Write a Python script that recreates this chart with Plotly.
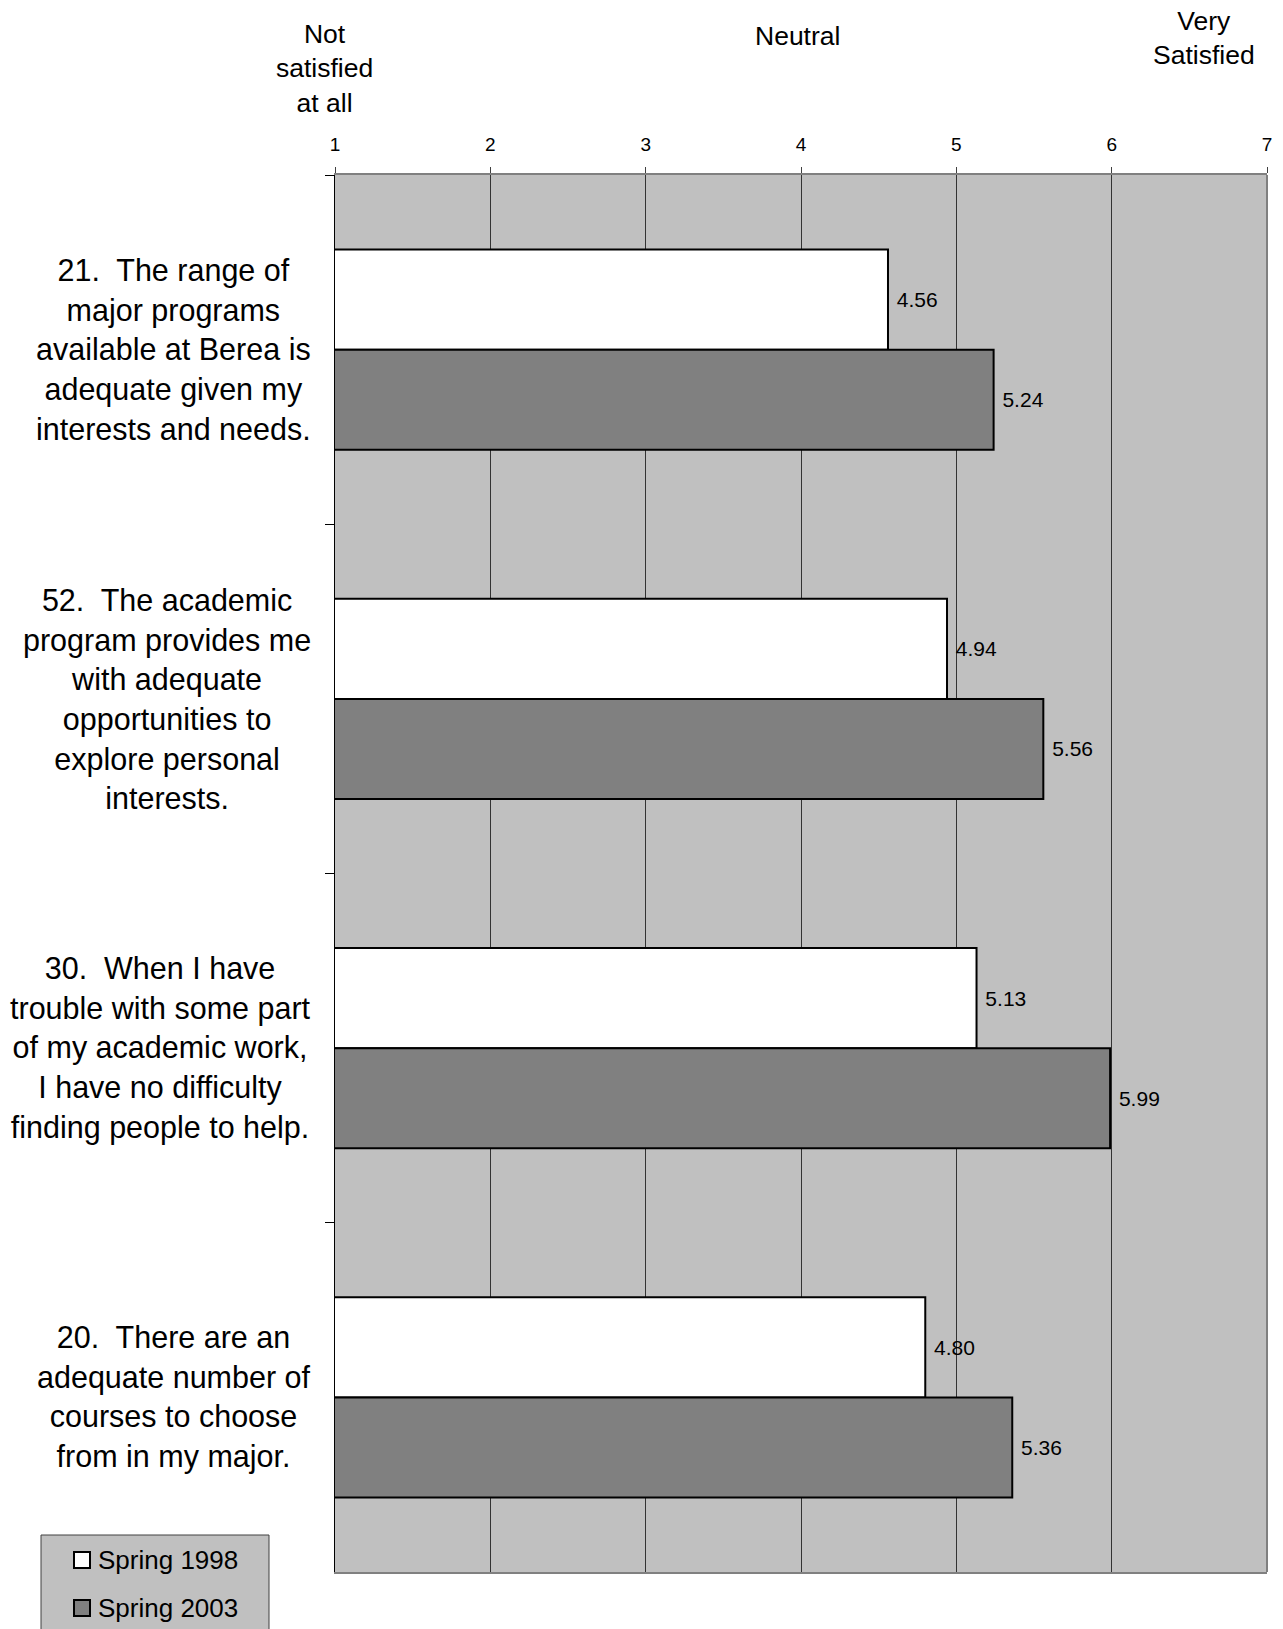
import plotly.graph_objects as go

# данные с картинки
questions = [
    "21.\u00a0 The range of<br>major programs<br>available at Berea is<br>adequate given my<br>interests and needs.",
    "52.\u00a0 The academic<br>program provides me<br>with adequate<br>opportunities to<br>explore personal<br>interests.",
    "30.\u00a0 When I have<br>trouble with some part<br>of my academic work,<br>I have no difficulty<br>finding people to help.",
    "20.\u00a0 There are an<br>adequate number of<br>courses to choose<br>from in my major.",
]
series_names = ["Spring 1998", "Spring 2003"]
spring_1998 = [4.56, 4.94, 5.13, 4.80]
spring_2003 = [5.24, 5.56, 5.99, 5.36]
scale_ticks = [1, 2, 3, 4, 5, 6, 7]

FONT = "Liberation Sans, Arial, sans-serif"
OFF = 8  # отступ body в браузере
W, H = 1283 - OFF, 1629 - OFF
ML, MR, MT, MB = 335 - OFF, 16, 175 - OFF, 57
PW, PH = W - ML - MR, H - MT - MB


# пиксели страницы -> координаты paper
def px(x):
    return (x - OFF - ML) / PW


def py(y):
    return (H - MB - (y - OFF)) / PH


fig = go.Figure()
fig.add_trace(go.Bar(y=questions, x=spring_1998, orientation='h', name=series_names[0],
                     marker=dict(color='white', line=dict(color='black', width=2)),
                     texttemplate='\u00a0%{x:.2f}', textposition='outside',
                     textfont=dict(size=21, color='black', family=FONT)))
fig.add_trace(go.Bar(y=questions, x=spring_2003, orientation='h', name=series_names[1],
                     marker=dict(color='#808080', line=dict(color='black', width=2)),
                     texttemplate='\u00a0%{x:.2f}', textposition='outside',
                     textfont=dict(size=21, color='black', family=FONT)))

# подписи вопросов слева
annotations = []
for q in questions:
    annotations.append(dict(x=0, y=q, xref='paper', yref='y', text=q, showarrow=False,
                            xanchor='right', yanchor='middle', align='center', xshift=-22,
                            font=dict(size=30.5, color='black', family=FONT)))

# подписи шкалы сверху
top_labels = [("Not<br>satisfied<br>at all", 324, 69), ("Neutral", 797, 36), ("Very<br>Satisfied", 1204, 38)]
for txt, x, y in top_labels:
    annotations.append(dict(x=px(x), y=py(y), xref='paper', yref='paper', text=txt, showarrow=False,
                            xanchor='center', yanchor='middle', align='center',
                            font=dict(size=26.5, color='black', family=FONT)))

# легенда вручную
shapes = [dict(type='rect', xref='paper', yref='paper', x0=px(41), x1=px(269), y0=py(1660), y1=py(1535),
               fillcolor='#C0C0C0', line=dict(color='#404040', width=1)),
          dict(type='line', xref='paper', yref='paper', x0=1, x1=1, y0=0, y1=1,
               line=dict(color='#808080', width=2))]
legend_colors = ['white', '#808080']
for i, (name, col) in enumerate(zip(series_names, legend_colors)):
    yc = 1560 + 48 * i
    shapes.append(dict(type='rect', xref='paper', yref='paper', x0=px(74), x1=px(90),
                       y0=py(yc + 8), y1=py(yc - 8), fillcolor=col, line=dict(color='black', width=2)))
    annotations.append(dict(x=px(96), y=py(yc), xref='paper', yref='paper', text=name, showarrow=False,
                            xanchor='left', yanchor='middle', font=dict(size=26, color='black', family=FONT)))

fig.update_layout(
    width=W, height=H,
    margin=dict(l=ML, r=MR, t=MT, b=MB, autoexpand=False),
    paper_bgcolor='white', plot_bgcolor='#C0C0C0',
    barmode='group', bargap=0.427, bargroupgap=0,
    showlegend=False,
    font=dict(family=FONT, color='black'),
    xaxis=dict(range=[1, 7], side='top', tickvals=scale_ticks, ticks='outside', ticklen=6,
               tickcolor='#404040', tickfont=dict(size=19, color='black', family=FONT), ticklabelstandoff=8,
               showgrid=True, gridcolor='#333333', gridwidth=1, zeroline=False,
               showline=True, linecolor='#808080', linewidth=2, mirror=True),
    yaxis=dict(type='category', autorange='reversed', showticklabels=False, ticks='outside',
               tickson='boundaries', ticklen=9, tickcolor='black', showgrid=False,
               showline=True, linecolor='black', linewidth=1),
    annotations=annotations,
    shapes=shapes,
)

fig.write_html("out.html")
